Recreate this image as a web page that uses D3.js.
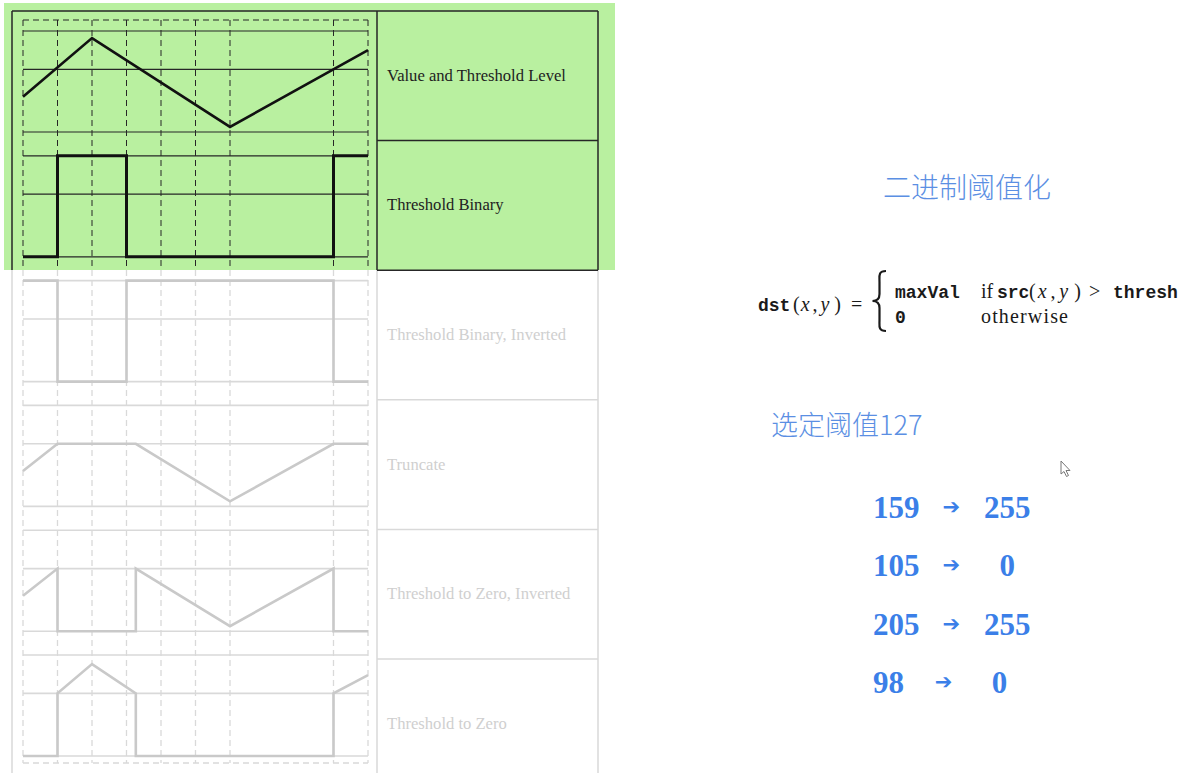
<!DOCTYPE html>
<html>
<head>
<meta charset="utf-8">
<script src="https://cdn.jsdelivr.net/npm/d3@7"></script>
<style>
  body { margin: 0; background: #fff; }
  svg { display: block; }
</style>
</head>
<body>
<svg id="chart" width="1189" height="773"></svg>
<script>
// Panel labels, top to bottom
const panelLabels = [
    "Value and Threshold Level",
    "Threshold Binary",
    "Threshold Binary, Inverted",
    "Truncate",
    "Threshold to Zero, Inverted",
    "Threshold to Zero"
];

// Each curve: [x step, level] where 0 = zero line, 1 = maxVal line
const valueLevel = [[0, 0.35], [2, 0.93], [6, 0.05], [10, 0.81]];
const binary     = [[0, 0], [1, 0], [1, 1], [3, 1], [3, 0], [9, 0], [9, 1], [10, 1]];
const binaryInv  = [[0, 1], [1, 1], [1, 0], [3, 0], [3, 1], [9, 1], [9, 0], [10, 0]];
const truncate   = [[0, 0.35], [1, 0.62], [3.27, 0.62], [6, 0.05], [9, 0.62], [10, 0.62]];
const toZeroInv  = [[0, 0.35], [1, 0.62], [1, 0], [3.27, 0], [3.27, 0.62], [6, 0.05], [9, 0.62], [9, 0], [10, 0]];
const toZero     = [[0, 0], [1, 0], [1, 0.62], [2, 0.91], [3.27, 0.62], [3.27, 0], [9, 0], [9, 0.62], [10, 0.8]];
const curves = [valueLevel, binary, binaryInv, truncate, toZeroInv, toZero];

// Horizontal reference levels: zero, thresh, maxVal
const levels = [0, 0.62, 1];
// Dashed vertical marks
const markX = [0, 1, 2, 3, 4, 5, 6, 9, 10];

// Right-hand example: threshold 127
const inputs  = [159, 105, 205, 98];
const outputs = [255, 0, 255, 0];

const svg = d3.select("#chart");

// Highlight behind the first two rows
svg.append("rect")
    .attr("x", 4).attr("y", 3)
    .attr("width", 611).attr("height", 267)
    .attr("fill", "#b9f0a0");

const dark = "#262626";
const light = "#d9d9d9";
const isDark = i => i < 2;

const x = d3.scaleLinear().domain([0, 10]).range([23, 368]);
const panelStep = 124.8;
const yFor = i => d3.scaleLinear().domain([0, 1]).range([132 + panelStep * i, 31 + panelStep * i]);

// Table rows for labels
const rows = d3.scaleBand().domain(panelLabels).range([11, 11 + 129.6 * 6]);

// Table frame
const frame = svg.append("g").attr("fill", "none").attr("stroke-width", 1.5);
[12, 377, 598].forEach(fx => {
    frame.append("line").attr("x1", fx).attr("x2", fx).attr("y1", 11).attr("y2", 270).attr("stroke", dark);
    frame.append("line").attr("x1", fx).attr("x2", fx).attr("y1", 270).attr("y2", 773).attr("stroke", light);
});
frame.append("line").attr("x1", 12).attr("x2", 598).attr("y1", 11).attr("y2", 11).attr("stroke", dark);
panelLabels.slice(1).forEach(d => {
    const yy = rows(d);
    frame.append("line")
        .attr("x1", 377).attr("x2", 598)
        .attr("y1", yy).attr("y2", yy)
        .attr("stroke", yy <= 271 ? dark : light);
});

// Dashed verticals and dashed top / bottom edges
const dash = svg.append("g").attr("stroke-width", 1).attr("stroke-dasharray", "6,4");
markX.forEach(m => {
    dash.append("line").attr("x1", x(m)).attr("x2", x(m)).attr("y1", 20).attr("y2", 270).attr("stroke", dark);
    dash.append("line").attr("x1", x(m)).attr("x2", x(m)).attr("y1", 270).attr("y2", 763).attr("stroke", light).attr("stroke-width", 1.3);
});
dash.append("line").attr("x1", x(0)).attr("x2", x(10)).attr("y1", 20).attr("y2", 20).attr("stroke", dark);
dash.append("line").attr("x1", x(0)).attr("x2", x(10)).attr("y1", 763).attr("y2", 763).attr("stroke", light).attr("stroke-width", 1.3);

// Panels
curves.forEach((pts, i) => {
    const y = yFor(i);
    const g = svg.append("g");

    g.selectAll(".level")
        .data(levels)
        .enter().append("line")
        .attr("x1", x(0)).attr("x2", x(10))
        .attr("y1", d => y(d)).attr("y2", d => y(d))
        .attr("stroke", isDark(i) ? dark : light)
        .attr("stroke-width", isDark(i) ? 1.2 : 1.6);

    const line = d3.line().x(d => x(d[0])).y(d => y(d[1]));
    g.append("path")
        .datum(pts)
        .attr("d", line)
        .attr("fill", "none")
        .attr("stroke", isDark(i) ? "#111" : "#c9c9c9")
        .attr("stroke-width", i === 1 ? 3 : 2.6)
        .attr("stroke-linejoin", "miter");
});

// Row labels
svg.selectAll(".label")
    .data(panelLabels)
    .enter().append("text")
    .attr("x", 387)
    .attr("y", d => rows(d) + rows.bandwidth() / 2 + 5)
    .attr("font-family", "Liberation Serif, serif")
    .attr("font-size", 16.6)
    .attr("fill", (d, i) => isDark(i) ? "#222" : "#cfcfcf")
    .text(d => d);

// Right side: title
const blue = "#5b8fe3";
svg.append("text")
    .attr("x", 883).attr("y", 198)
    .attr("font-family", "Noto Sans CJK SC")
    .attr("font-weight", 300)
    .attr("font-size", 28)
    .attr("fill", blue)
    .text("二进制阈值化");

// Formula, placed piece by piece
const mono = "Liberation Mono, monospace";
const serif = "Liberation Serif, serif";
const f = svg.append("g").attr("fill", "#1a1a1a");

function piece(txt, px, py, kind, len) {
    const t = f.append("text").attr("x", px).attr("y", py).text(txt);
    if (kind === "mono") {
        t.attr("font-family", mono).attr("font-weight", "bold").attr("font-size", 18);
    } else if (kind === "it") {
        t.attr("font-family", serif).attr("font-style", "italic").attr("font-size", 20);
    } else {
        t.attr("font-family", serif).attr("font-size", 20);
    }
    if (len) t.attr("textLength", len).attr("lengthAdjust", "spacing");
    return t;
}
function args(px, py, w) {
    piece("(", px, py);
    piece("x", px + w * 0.16, py, "it");
    piece(",", px + w * 0.40, py);
    piece("y", px + w * 0.56, py, "it");
    piece(")", px + w * 0.84, py);
}

piece("dst", 758, 311, "mono");
args(793, 311, 49);
piece("=", 851, 311);

f.append("path")
    .attr("d", "M886,271 C878,271 879.5,276 879.5,282 L879.5,294 C879.5,299 877,301 872.5,301 C877,301 879.5,303 879.5,308 L879.5,320 C879.5,326 878,331 886,331")
    .attr("fill", "none").attr("stroke", "#1a1a1a").attr("stroke-width", 2.2);

piece("maxVal", 895, 298, "mono");
piece("if", 981, 298);
piece("src", 997, 298, "mono");
args(1029, 298, 54);
piece(">", 1089, 298);
piece("thresh", 1113, 298, "mono");

piece("0", 895, 323, "mono");
piece("otherwise", 981, 323, "serif", 87);

// Chosen threshold
svg.append("text")
    .attr("x", 771).attr("y", 435)
    .attr("font-family", "Noto Sans CJK SC")
    .attr("font-weight", 300)
    .attr("font-size", 27)
    .attr("fill", blue)
    .text("选定阈值127");

// Mouse pointer
svg.append("path")
    .attr("d", "M1061,461 L1061,474 L1064,471.5 L1066.5,476.5 L1068.5,475.5 L1066,470.5 L1070,470.5 Z")
    .attr("fill", "#fff").attr("stroke", "#777").attr("stroke-width", 1);

// Input -> output mapping
const numBlue = "#3b7fe8";
const ry = d3.scalePoint().domain(d3.range(inputs.length)).range([518, 693]);
inputs.forEach((v, i) => {
    const t = svg.append("text")
        .attr("x", 873).attr("y", ry(i))
        .attr("font-family", serif)
        .attr("font-weight", "bold")
        .attr("font-size", 31)
        .attr("fill", numBlue)
        .text(v);
    const w = t.node().getComputedTextLength();
    const ax = 873 + w / 2 + 55;
    svg.append("text")
        .attr("x", ax).attr("y", ry(i) - 4)
        .attr("text-anchor", "middle")
        .attr("font-family", "DejaVu Sans")
        .attr("font-weight", "bold")
        .attr("font-size", 21)
        .attr("fill", numBlue)
        .text("➔");
    svg.append("text")
        .attr("x", ax + 56).attr("y", ry(i))
        .attr("text-anchor", "middle")
        .attr("font-family", serif)
        .attr("font-weight", "bold")
        .attr("font-size", 31)
        .attr("fill", numBlue)
        .text(outputs[i]);
});
</script>
</body>
</html>
